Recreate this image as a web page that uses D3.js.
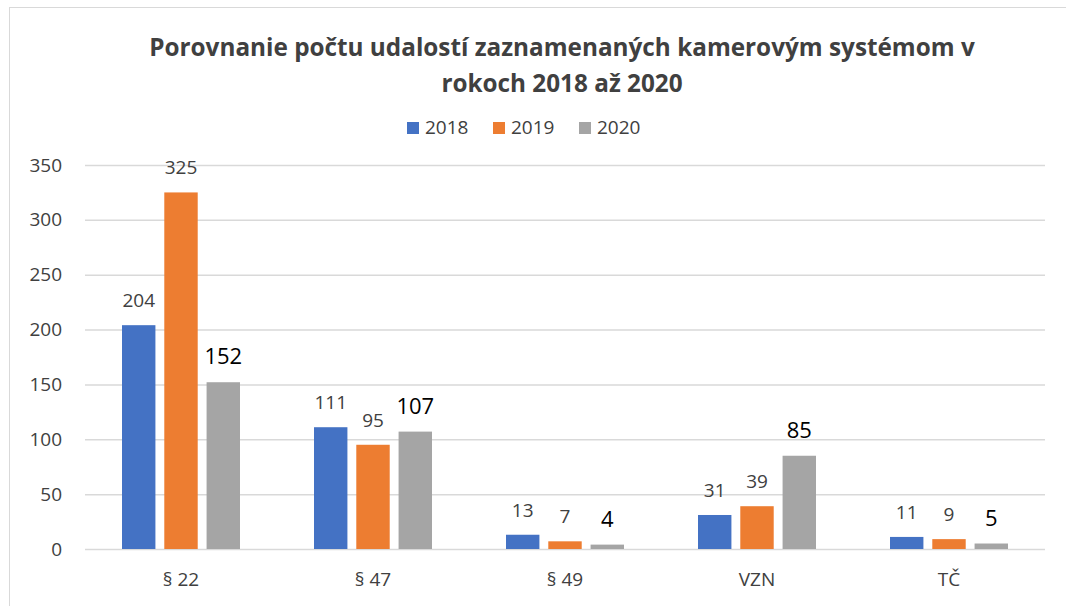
<!DOCTYPE html>
<html>
<head>
<meta charset="utf-8">
<script src="https://cdn.jsdelivr.net/npm/d3@7"></script>
<style>
  body { margin: 0; background: #fff; }
  text { font-family: "Open Sans", "Noto Sans", sans-serif; }
</style>
</head>
<body>
<div id="chart"></div>
<script>
// data
const categories = ["§ 22", "§ 47", "§ 49", "VZN", "TČ"];
const years = ["2018", "2019", "2020"];
const values2018 = [204, 111, 13, 31, 11];
const values2019 = [325, 95, 7, 39, 9];
const values2020 = [152, 107, 4, 85, 5];
const yTicks = [0, 50, 100, 150, 200, 250, 300, 350];
const titleLines = ["Porovnanie počtu udalostí zaznamenaných kamerovým systémom v", "rokoch 2018 až 2020"];

const series = [values2018, values2019, values2020];
const colors = ["#4472c4", "#ed7d31", "#a5a5a5"];

const W = 1066, H = 606;
const margin = {top: 165, right: 21, bottom: 57, left: 85},
      width = W - margin.left - margin.right,
      height = H - margin.top - margin.bottom;

const root = d3.select("#chart").append("svg")
    .attr("width", W)
    .attr("height", H);

// outer chart border
root.append("rect")
    .attr("x", 9.5).attr("y", 7.5)
    .attr("width", W).attr("height", H)
    .attr("fill", "none")
    .attr("stroke", "#d9d9d9");

// title
root.append("g").selectAll("text")
    .data(titleLines)
    .enter().append("text")
    .attr("x", 562)
    .attr("y", (d, i) => 56 + i * 36)
    .attr("text-anchor", "middle")
    .style("font-size", "24.3px")
    .style("font-weight", "bold")
    .style("fill", "#404040")
    .text(d => d);

// legend
const legend = root.append("g").selectAll("g")
    .data(years)
    .enter().append("g")
    .attr("transform", (d, i) => `translate(${[407, 493, 579][i]}, 122)`);
legend.append("rect")
    .attr("width", 12).attr("height", 12)
    .attr("fill", (d, i) => colors[i]);
legend.append("text")
    .attr("x", 18).attr("y", 12)
    .style("font-size", "19px")
    .style("fill", "#404040")
    .text(d => d);

const svg = root.append("g")
    .attr("transform", `translate(${margin.left},${margin.top})`);

// scales
const x0 = d3.scaleBand().domain(categories).range([0, width]);
const x1 = d3.scaleBand().domain(years).range([0, 118]).paddingInner(0.21);
const y = d3.scaleLinear().domain([0, 350]).range([height, 0]);

// gridlines
svg.append("g")
    .call(d3.axisLeft(y).tickValues(yTicks).tickSize(-width).tickFormat(""))
    .call(g => g.select(".domain").remove())
    .call(g => g.selectAll("line").attr("stroke", "#d9d9d9").attr("stroke-width", 1.5));

// y axis labels
svg.append("g")
    .call(d3.axisLeft(y).tickValues(yTicks).tickSize(0).tickPadding(23))
    .call(g => g.select(".domain").remove())
    .call(g => g.selectAll("text")
        .style("font-size", "19px")
        .style("fill", "#404040")
        .style("font-family", "'Open Sans', sans-serif"));

// x axis labels
svg.append("g")
    .attr("transform", `translate(0,${height})`)
    .call(d3.axisBottom(x0).tickSize(0).tickPadding(24))
    .call(g => g.select(".domain").remove())
    .call(g => g.selectAll("text")
        .style("font-size", "19px")
        .style("fill", "#404040")
        .style("font-family", "'Open Sans', sans-serif"));

// bars
const groups = svg.selectAll(".grp")
    .data(categories)
    .enter().append("g")
    .attr("class", "grp")
    .attr("transform", d => `translate(${x0(d) + x0.bandwidth() / 2 - 59},0)`);

const cells = groups.selectAll("g")
    .data((d, ci) => years.map((yr, si) => ({yr, si, v: series[si][ci]})))
    .enter().append("g");

cells.append("rect")
    .attr("x", d => x1(d.yr))
    .attr("width", x1.bandwidth())
    .attr("y", d => y(d.v))
    .attr("height", d => height - y(d.v))
    .attr("fill", d => colors[d.si]);

cells.append("text")
    .attr("x", d => x1(d.yr) + x1.bandwidth() / 2)
    .attr("y", d => y(d.v) - 18)
    .attr("text-anchor", "middle")
    .style("font-size", d => d.si === 2 ? "22px" : "19px")
    .style("fill", d => d.si === 2 ? "#000" : "#404040")
    .text(d => d.v);
</script>
</body>
</html>
